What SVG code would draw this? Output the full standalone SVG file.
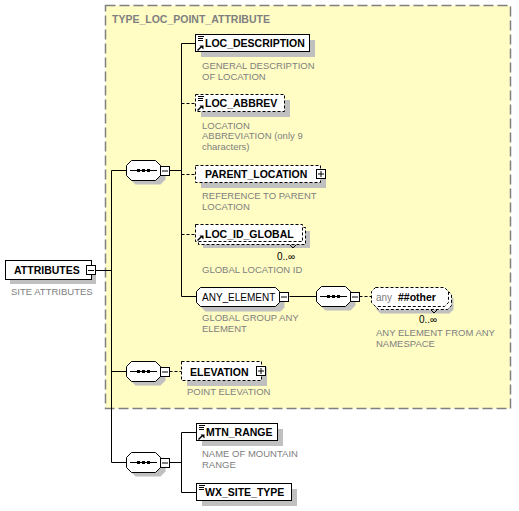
<svg xmlns="http://www.w3.org/2000/svg" width="519" height="511" viewBox="0 0 519 511">
<defs>
<style>
.bg{fill:#ffffff}
.cplx{fill:#FFFDC4;stroke:#808080;stroke-width:1.5;stroke-dasharray:10 4}
.ttl{font-family:"Liberation Sans",Arial,sans-serif;font-size:10.5px;font-weight:bold;fill:#808080}
.nm{font-family:"Liberation Sans",Arial,sans-serif;font-size:10.5px;font-weight:bold;fill:#000}
.nmr{font-family:"Liberation Sans",Arial,sans-serif;font-size:10px;fill:#000}
.anyt{font-family:"Liberation Sans",Arial,sans-serif;font-size:10px;fill:#808080}
.ds{font-family:"Liberation Sans",Arial,sans-serif;font-size:9.5px;fill:#808080}
.occ{font-family:"Liberation Sans",Arial,sans-serif;font-size:10px;fill:#000}
.box{fill:#fff;stroke:#000;stroke-width:1}
.dbox{fill:#fff;stroke:#000;stroke-width:1;stroke-dasharray:3 2}
.sh{fill:#C0C0C0}
.ln{stroke:#000;stroke-width:1;fill:none}
.dln{stroke:#000;stroke-width:1;fill:none;stroke-dasharray:3 2}
.pm{fill:#fff;stroke:#000;stroke-width:1}
</style>
</defs>
<rect width="519" height="511" fill="#fff"/>
<rect class="cplx" x="105.5" y="5.5" width="405" height="403"/>
<text class="ttl" x="112" y="22.5">TYPE_LOC_POINT_ATTRIBUTE</text>

<g id="connectors">
<path class="ln" d="M96 270.5H111.5M111.5 170.5V462.5M111.5 170.5H126.5M111.5 371.5H126.5M111.5 462.5H126.5"/>
<path class="ln" d="M169.5 170.5H181.5M181.5 43.5V296.5M181.5 43.5H195.5M181.5 296.5H196.5"/>
<path class="dln" d="M181.5 103.5H195.5M181.5 174.5H195.5M181.5 234.5H195.5"/>
<path class="ln" d="M289.5 296.5H316.5"/>
<path class="dln" d="M359.5 296.5H371.5"/>
<path class="dln" d="M169.5 371.5H181.5"/>
<path class="ln" d="M169.5 462.5H181.5M181.5 432.5V492.5M181.5 432.5H196.5M181.5 492.5H196.5"/>
</g>

<g id="n-attributes">
<rect class="sh" x="10" y="265" width="86" height="19"/>
<rect class="box" x="5.5" y="260.5" width="86" height="19"/>
<text class="nm" x="14" y="274">ATTRIBUTES</text>
<rect class="pm" x="86.5" y="265.5" width="9" height="9"/>
<path class="ln" d="M88 270.5H94"/>
<text class="ds" x="11" y="294.5">SITE ATTRIBUTES</text>
</g>

<g id="n-seq1">
<path class="sh" d="M135.5 164.5H160.5L165.5 169.5V179.5L160.5 184.5H135.5L130.5 179.5V169.5Z"/>
<path class="box" d="M131.5 160.5H155.5L160.5 165.5V175.5L155.5 180.5H131.5L126.5 175.5V165.5Z"/>
<path class="ln" d="M130 170.5H157"/>
<rect x="137" y="169" width="3" height="3"/><rect x="142" y="169" width="3" height="3"/><rect x="147" y="169" width="3" height="3"/>
<rect class="pm" x="160.5" y="166.5" width="9" height="9"/>
<path class="ln" d="M162 171H168"/>
</g>

<g id="n-loc-description">
<rect class="sh" x="201" y="40" width="114" height="17"/>
<rect class="box" x="195.5" y="34.5" width="114" height="17"/>
<path class="ln" d="M198 36.5H204M198 38.5H203M198 40.5H203"/>
<path d="M197.5 50.5L201.5 46.5" stroke="#000" stroke-width="1.5"/>
<path d="M199.5 45.5H203.5V49.5Z"/>
<text class="nm" x="205" y="47">LOC_DESCRIPTION</text>
<text class="ds" x="202" y="68.5">GENERAL DESCRIPTION</text>
<text class="ds" x="202" y="79.5">OF LOCATION</text>
</g>

<g id="n-loc-abbrev">
<rect class="sh" x="201" y="100" width="89" height="17"/>
<rect class="dbox" x="195.5" y="94.5" width="89" height="17"/>
<path class="ln" d="M198 96.5H204M198 98.5H203M198 100.5H203"/>
<path d="M197.5 110.5L201.5 106.5" stroke="#000" stroke-width="1.5"/>
<path d="M199.5 105.5H203.5V109.5Z"/>
<text class="nm" x="205" y="107">LOC_ABBREV</text>
<text class="ds" x="202" y="128.5">LOCATION</text>
<text class="ds" x="202" y="139">ABBREVIATION (only 9</text>
<text class="ds" x="202" y="149.5">characters)</text>
</g>

<g id="n-parent-location">
<rect class="sh" x="201" y="171" width="125" height="17"/>
<rect class="dbox" x="195.5" y="165.5" width="125" height="17"/>
<text class="nm" x="205" y="178">PARENT_LOCATION</text>
<rect class="pm" x="316.5" y="169.5" width="9" height="9"/>
<path class="ln" d="M318 174H324M321 171V177"/>
<text class="ds" x="202" y="198.5">REFERENCE TO PARENT</text>
<text class="ds" x="202" y="209.5">LOCATION</text>
</g>

<g id="n-loc-id-global">
<rect class="sh" x="203" y="231" width="107" height="17"/>
<rect class="dbox" x="198.5" y="227.5" width="107" height="17"/>
<rect class="dbox" x="195.5" y="224.5" width="107" height="17"/>
<path d="M197.5 240.5L201.5 236.5" stroke="#000" stroke-width="1.5"/>
<path d="M199.5 235.5H203.5V239.5Z"/>
<text class="nm" x="205" y="238">LOC_ID_GLOBAL</text>
<path class="ln" d="M290 245L293 248L296 245"/>
<text class="occ" x="277" y="260">0..∞</text>
<text class="ds" x="202" y="272.5">GLOBAL LOCATION ID</text>
</g>

<g id="n-any-element">
<path class="sh" d="M205.5 292.5H280.5L284.5 296.5V307.5L280.5 311.5H205.5L201.5 307.5V296.5Z"/>
<path class="box" d="M200.5 287.5H275.5L279.5 291.5V302.5L275.5 306.5H200.5L196.5 302.5V291.5Z"/>
<text class="nmr" x="202" y="301">ANY_ELEMENT</text>
<rect class="pm" x="279.5" y="292.5" width="9" height="9"/>
<path class="ln" d="M281 297H287"/>
<text class="ds" x="202" y="321">GLOBAL GROUP ANY</text>
<text class="ds" x="202" y="332">ELEMENT</text>
</g>

<g id="n-seq4">
<path class="sh" d="M325.5 290.5H350.5L355.5 295.5V305.5L350.5 310.5H325.5L320.5 305.5V295.5Z"/>
<path class="box" d="M321.5 286.5H345.5L350.5 291.5V301.5L345.5 306.5H321.5L316.5 301.5V291.5Z"/>
<path class="ln" d="M320 296.5H347"/>
<rect x="327" y="295" width="3" height="3"/><rect x="332" y="295" width="3" height="3"/><rect x="337" y="295" width="3" height="3"/>
<rect class="pm" x="350.5" y="292.5" width="9" height="9"/>
<path class="ln" d="M352 297H358"/>
</g>

<g id="n-any-other">
<path class="sh" d="M380.5 294.5H449.5L453.5 298.5V309.5L449.5 313.5H380.5L376.5 309.5V298.5Z"/>
<path class="dbox" d="M378.5 290.5H447.5L451.5 294.5V305.5L447.5 309.5H378.5L374.5 305.5V294.5Z"/>
<path class="dbox" d="M375.5 287.5H444.5L448.5 291.5V302.5L444.5 306.5H375.5L371.5 302.5V291.5Z"/>
<text class="anyt" x="376" y="301">any</text>
<text class="nm" x="398" y="301">##other</text>
<path class="ln" d="M431 310L434 313L437 310"/>
<text class="occ" x="419" y="323">0..∞</text>
<text class="ds" x="376" y="335.5">ANY ELEMENT FROM ANY</text>
<text class="ds" x="376" y="346.5">NAMESPACE</text>
</g>

<g id="n-seq2">
<path class="sh" d="M135.5 365.5H160.5L165.5 370.5V380.5L160.5 385.5H135.5L130.5 380.5V370.5Z"/>
<path class="box" d="M131.5 361.5H155.5L160.5 366.5V376.5L155.5 381.5H131.5L126.5 376.5V366.5Z"/>
<path class="ln" d="M130 371.5H157"/>
<rect x="137" y="370" width="3" height="3"/><rect x="142" y="370" width="3" height="3"/><rect x="147" y="370" width="3" height="3"/>
<rect class="pm" x="160.5" y="367.5" width="9" height="9"/>
<path class="ln" d="M162 372H168"/>
</g>

<g id="n-elevation">
<rect class="sh" x="187" y="367" width="80" height="19"/>
<rect class="dbox" x="181.5" y="361.5" width="80" height="19"/>
<text class="nm" x="190" y="375.5">ELEVATION</text>
<rect class="pm" x="256.5" y="366.5" width="9" height="9"/>
<path class="ln" d="M258 371H264M261 368V374"/>
<text class="ds" x="187" y="395">POINT ELEVATION</text>
</g>

<g id="n-seq3">
<path class="sh" d="M135.5 456.5H160.5L165.5 461.5V471.5L160.5 476.5H135.5L130.5 471.5V461.5Z"/>
<path class="box" d="M131.5 452.5H155.5L160.5 457.5V467.5L155.5 472.5H131.5L126.5 467.5V457.5Z"/>
<path class="ln" d="M130 462.5H157"/>
<rect x="137" y="461" width="3" height="3"/><rect x="142" y="461" width="3" height="3"/><rect x="147" y="461" width="3" height="3"/>
<rect class="pm" x="160.5" y="458.5" width="9" height="9"/>
<path class="ln" d="M162 463H168"/>
</g>

<g id="n-mtn-range">
<rect class="sh" x="202" y="429" width="81" height="17"/>
<rect class="box" x="196.5" y="423.5" width="81" height="17"/>
<path class="ln" d="M199 425.5H205M199 427.5H204M199 429.5H204"/>
<path d="M198.5 439.5L202.5 435.5" stroke="#000" stroke-width="1.5"/>
<path d="M200.5 434.5H204.5V438.5Z"/>
<text class="nm" x="206" y="436">MTN_RANGE</text>
<text class="ds" x="202" y="457">NAME OF MOUNTAIN</text>
<text class="ds" x="202" y="467.5">RANGE</text>
</g>

<g id="n-wx-site-type">
<rect class="sh" x="202" y="489" width="95" height="17"/>
<rect class="box" x="196.5" y="483.5" width="95" height="17"/>
<path class="ln" d="M199 485.5H205M199 487.5H204M199 489.5H204"/>
<text class="nm" x="205" y="496">WX_SITE_TYPE</text>
</g>
</svg>
